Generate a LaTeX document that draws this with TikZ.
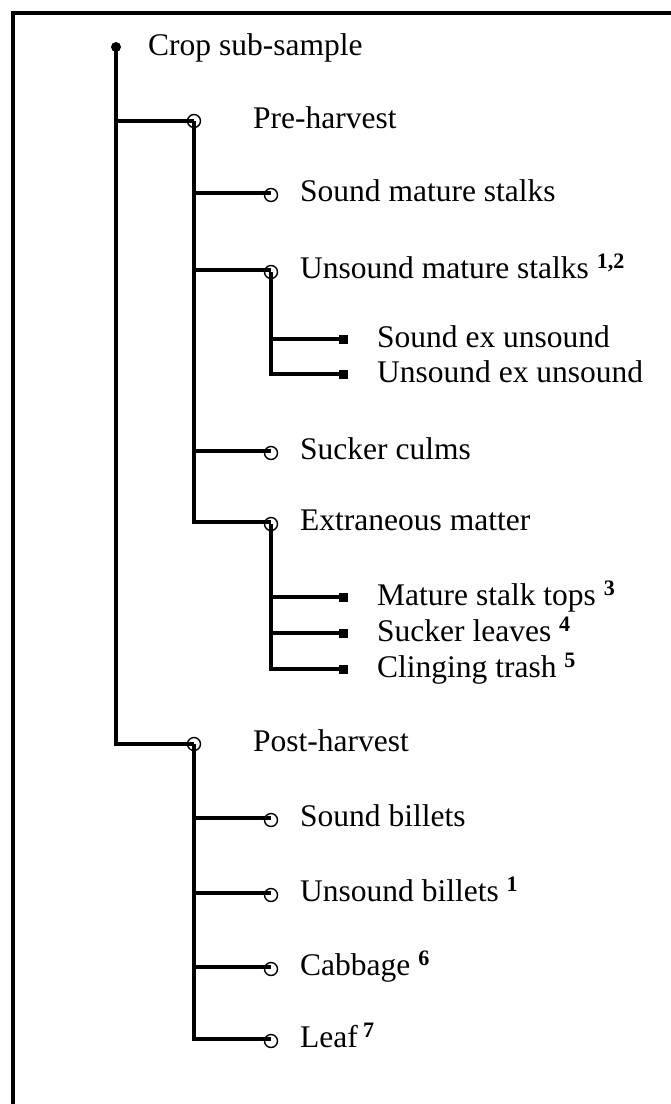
\documentclass[tikz,border=0pt]{standalone}
\usepackage{fontspec}
\setmainfont{Liberation Serif}
\usetikzlibrary{positioning, calc}

\begin{document}
\begin{tikzpicture}[
    x=1pt, y=-1pt,
    font=\fontsize{31.5}{36}\selectfont,
    branch/.style={line width=3.9pt},
    frameline/.style={line width=4pt},
    rootdot/.style={circle, fill=black, inner sep=0pt, minimum size=10pt},
    hollowdot/.style={circle, draw=black, line width=1.4pt, inner sep=0pt, minimum size=13pt},
    squaredot/.style={rectangle, fill=black, inner sep=0pt, minimum size=9pt},
    itemlabel/.style={anchor=base west, inner sep=0pt}
]
    \useasboundingbox (0,0) rectangle (671,1104);

    % =========================================================================
    % FRAME (top and left edges only)
    % =========================================================================
    \draw[frameline] (671,13) -- (13,13) -- (13,1104);

    % =========================================================================
    % ROOT
    % =========================================================================
    \node[rootdot] (root) at (116,47) {};
    \node[itemlabel] (rootlab) at (148,55) {Crop sub-sample};

    % =========================================================================
    % LEVEL 1: PRE- AND POST-HARVEST
    % =========================================================================
    \node[hollowdot] (pre) at (194,121) {};
    \node[itemlabel] (prelab) at (253,128) {Pre-harvest};
    \node[hollowdot] (post) at (194,744) {};
    \node[itemlabel] (postlab) at (253,751) {Post-harvest};

    \draw[branch] (root.center) |- (pre.center);
    \draw[branch] (root.center) |- (post.center);

    % =========================================================================
    % LEVEL 2: PRE-HARVEST CLASSES
    % =========================================================================
    \foreach \name/\y/\txt in {sms/193/{Sound mature stalks},
                               ums/270/{Unsound mature stalks \textsuperscript{\bfseries 1,2}},
                               suc/451/{Sucker culms},
                               ext/522/{Extraneous matter}} {
        \node[hollowdot] (\name) at (271,\y+2) {};
        \node[itemlabel] (\name lab) at (300,\y+8) {\txt};
        \draw[branch] (pre.center) |- ($(\name.center)+(0,-2)$);
    }

    % =========================================================================
    % LEVEL 2: POST-HARVEST CLASSES
    % =========================================================================
    \foreach \name/\y/\txt in {sb/818/{Sound billets},
                               ub/893/{Unsound billets \textsuperscript{\bfseries 1}},
                               cab/967/{Cabbage \textsuperscript{\bfseries 6}},
                               leaf/1039/{Leaf\,\textsuperscript{\bfseries 7}}} {
        \node[hollowdot] (\name) at (271,\y+2) {};
        \node[itemlabel] (\name lab) at (300,\y+8) {\txt};
        \draw[branch] (post.center) |- ($(\name.center)+(0,-2)$);
    }

    % =========================================================================
    % LEVEL 3: SUB-CLASSES
    % =========================================================================
    \foreach \parent/\name/\y/\txt in {ums/sex/338/{Sound ex unsound},
                                       ums/uex/373/{Unsound ex unsound},
                                       ext/mst/596/{Mature stalk tops \textsuperscript{\bfseries 3}},
                                       ext/sl/632/{Sucker leaves \textsuperscript{\bfseries 4}},
                                       ext/ct/668/{Clinging trash \textsuperscript{\bfseries 5}}} {
        \node[squaredot] (\name) at (343.5,\y+1) {};
        \node[itemlabel] (\name lab) at (377,\y+9) {\txt};
        \draw[branch] (\parent.center) |- (\name.east);
    }

\end{tikzpicture}
\end{document}
